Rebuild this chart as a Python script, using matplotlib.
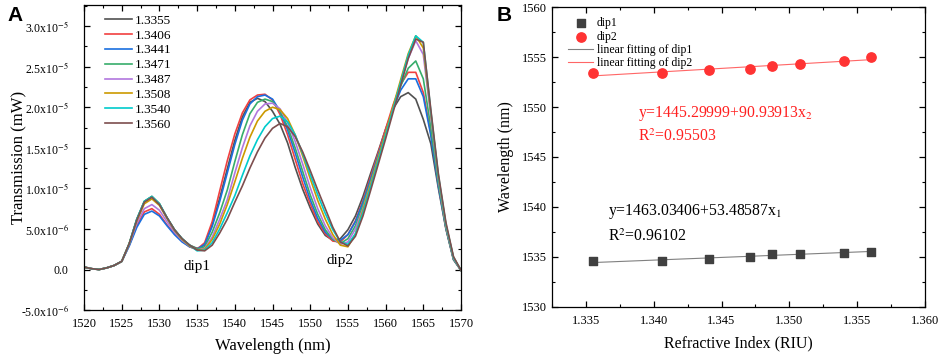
import numpy as np
import matplotlib
matplotlib.use('Agg')
import matplotlib.pyplot as plt
from matplotlib.ticker import FixedLocator, MultipleLocator, FormatStrFormatter

plt.rcParams['font.family'] = ['Liberation Serif', 'DejaVu Serif']
plt.rcParams['mathtext.fontset'] = 'stix'

# ---- panel A data: transmission spectra (units of 1e-6 mW) ----
wl = np.arange(1520, 1571, 1)
ri_labels = ['1.3355', '1.3406', '1.3441', '1.3471', '1.3487', '1.3508', '1.3540', '1.3560']
colors = ['#515151', '#F14040', '#1A6FDF', '#37AD6B', '#B177DE', '#CC9900', '#00CBCC', '#7D4E4E']

t_1_3355 = [0.3, 0.1, 0.0, 0.2, 0.5, 1.0, 3.2, 6.2, 8.4, 9.0, 8.1, 6.4, 4.9, 3.8, 3.0, 2.6,
            3.0, 5.6, 8.8, 12.4, 15.9, 18.8, 20.6, 21.1, 20.7, 19.5, 17.9, 15.6, 12.6, 9.9, 7.6,
            5.6, 4.2, 3.6, 3.8, 4.9, 6.6, 9.0, 11.8, 14.5, 17.3, 19.8, 21.3, 21.8, 21.0, 18.5,
            15.5, 10.0, 5.0, 1.2, -0.1]
t_1_3406 = [0.3, 0.1, 0.0, 0.2, 0.5, 1.0, 3.0, 5.4, 7.1, 7.5, 6.8, 5.5, 4.4, 3.5, 2.8, 2.5,
            3.3, 5.9, 9.7, 13.4, 16.7, 19.3, 20.9, 21.5, 21.6, 20.9, 19.1, 16.6, 13.6, 10.6, 8.1,
            5.9, 4.4, 3.5, 3.4, 4.3, 6.0, 8.5, 11.4, 14.3, 17.3, 20.3, 22.8, 24.3, 24.3, 21.8,
            16.8, 10.4, 5.1, 1.3, -0.1]
t_1_3441 = [0.3, 0.1, 0.0, 0.2, 0.5, 1.0, 2.9, 5.2, 6.8, 7.2, 6.6, 5.4, 4.3, 3.4, 2.8, 2.5,
            3.1, 5.3, 8.4, 11.9, 15.4, 18.4, 20.4, 21.3, 21.5, 21.0, 19.5, 17.2, 14.4, 11.4, 8.6,
            6.3, 4.6, 3.7, 3.6, 4.3, 5.9, 8.3, 11.1, 14.0, 16.9, 19.8, 22.1, 23.5, 23.5, 21.3,
            16.5, 10.3, 5.1, 1.3, -0.1]
t_1_3471 = [0.3, 0.1, 0.0, 0.2, 0.5, 1.0, 3.2, 6.2, 8.4, 9.0, 8.1, 6.4, 4.9, 3.8, 3.0, 2.5,
            2.8, 4.6, 7.0, 9.8, 13.3, 16.6, 19.2, 20.6, 21.0, 20.7, 19.5, 17.6, 15.0, 12.1, 9.2,
            6.8, 4.9, 3.7, 3.2, 3.8, 5.4, 7.9, 10.8, 13.8, 16.8, 19.8, 22.6, 24.8, 25.7, 23.5,
            17.5, 10.7, 5.2, 1.3, -0.1]
t_1_3487 = [0.3, 0.1, 0.0, 0.2, 0.5, 1.0, 3.1, 5.7, 7.5, 8.0, 7.3, 5.9, 4.6, 3.6, 2.9, 2.4,
            2.6, 4.0, 6.2, 8.6, 11.9, 15.0, 17.7, 19.5, 20.4, 20.5, 19.8, 18.1, 15.8, 13.0, 10.1,
            7.5, 5.4, 3.9, 3.1, 3.4, 5.0, 7.5, 10.5, 13.6, 16.7, 19.9, 23.0, 26.0, 28.2, 26.5,
            18.8, 11.2, 5.4, 1.4, -0.1]
t_1_3508 = [0.3, 0.1, 0.0, 0.2, 0.5, 1.0, 3.2, 6.0, 8.1, 8.7, 7.9, 6.3, 4.8, 3.7, 2.9, 2.4,
            2.5, 3.7, 5.6, 8.0, 10.8, 13.7, 16.3, 18.3, 19.5, 20.0, 19.7, 18.6, 16.6, 14.0, 11.2,
            8.5, 6.2, 4.3, 3.0, 2.8, 4.4, 7.3, 10.4, 13.6, 16.8, 20.1, 23.4, 26.6, 28.8, 27.3,
            19.2, 11.4, 5.5, 1.5, -0.1]
t_1_3540 = [0.3, 0.1, 0.0, 0.2, 0.5, 1.0, 3.2, 6.2, 8.4, 9.0, 8.1, 6.4, 4.9, 3.8, 3.0, 2.3,
            2.4, 3.3, 5.0, 7.0, 9.1, 11.6, 14.0, 16.0, 17.6, 18.6, 18.9, 18.2, 16.6, 14.3, 11.7,
            9.2, 6.9, 4.9, 3.4, 3.1, 4.4, 7.0, 10.1, 13.3, 16.5, 19.8, 23.1, 26.4, 28.8, 28.0,
            19.5, 11.6, 5.6, 1.5, -0.1]
t_1_3560 = [0.3, 0.1, 0.0, 0.2, 0.5, 1.0, 3.2, 6.1, 8.3, 8.9, 8.0, 6.4, 4.9, 3.8, 3.0, 2.4,
            2.3, 3.0, 4.5, 6.2, 8.3, 10.3, 12.5, 14.5, 16.2, 17.4, 18.0, 17.6, 16.4, 14.5, 12.2,
            9.8, 7.5, 5.2, 3.4, 2.9, 4.1, 6.6, 9.7, 12.9, 16.1, 19.4, 22.7, 26.0, 28.4, 28.0,
            19.7, 11.8, 5.8, 1.6, -0.1]
spectra = [t_1_3355, t_1_3406, t_1_3441, t_1_3471, t_1_3487, t_1_3508, t_1_3540, t_1_3560]

a_yticks = [-5e-6, 0, 5e-6, 1e-5, 1.5e-5, 2e-5, 2.5e-5, 3e-5]
a_yticklabels = [r'-5.0x10$^{-6}$', '0.0', r'5.0x10$^{-6}$', r'1.0x10$^{-5}$', r'1.5x10$^{-5}$',
                 r'2.0x10$^{-5}$', r'2.5x10$^{-5}$', r'3.0x10$^{-5}$']

# ---- panel B data: dip wavelengths vs refractive index ----
ri = [1.3355, 1.3406, 1.3441, 1.3471, 1.3487, 1.3508, 1.3540, 1.3560]
dip1 = [1534.55, 1534.57, 1534.83, 1535.0, 1535.28, 1535.32, 1535.43, 1535.53]
dip2 = [1553.36, 1553.43, 1553.70, 1553.80, 1554.13, 1554.28, 1554.62, 1554.96]

fig = plt.figure(figsize=(9.41, 3.56), dpi=100)
axA = fig.add_axes([0.0893, 0.129, 0.4006, 0.857])
axB = fig.add_axes([0.5866, 0.138, 0.3964, 0.842])

for ax in (axA, axB):
    ax.tick_params(which='both', direction='in', top=True, right=True, labelsize=9)
    ax.tick_params(which='major', length=4, width=0.9)
    ax.tick_params(which='minor', length=2.5, width=0.8)
    for s in ax.spines.values():
        s.set_linewidth(0.9)

for vals, c, lab in zip(spectra, colors, ri_labels):
    axA.plot(wl, np.array(vals) * 1e-6, color=c, lw=1.2, label=lab)
axA.set_xlim(1520, 1570)
axA.set_ylim(-5e-6, 3.26e-5)
axA.xaxis.set_major_locator(MultipleLocator(5))
axA.xaxis.set_minor_locator(MultipleLocator(2.5))
axA.yaxis.set_major_locator(FixedLocator(a_yticks))
axA.set_yticklabels(a_yticklabels)
axA.yaxis.set_minor_locator(MultipleLocator(2.5e-6))
axA.tick_params(axis='y', which='major', labelsize=8.5, pad=11)
axA.tick_params(axis='x', which='major', pad=6)
axA.set_xlabel('Wavelength (nm)', fontsize=12)
axA.set_ylabel('Transmission (mW)', fontsize=12)
axA.xaxis.set_label_coords(0.5, -0.09)
axA.yaxis.set_label_coords(-0.15, 0.5)
axA.text(1535, 0.4e-6, 'dip1', fontsize=11, ha='center', va='center')
axA.text(1554, 1.1e-6, 'dip2', fontsize=11, ha='center', va='center')
axA.legend(loc='upper left', bbox_to_anchor=(0.035, 0.995), frameon=False, fontsize=9.5,
           handlelength=2.0, handletextpad=0.25, labelspacing=0.2, borderaxespad=0.2)

axB.scatter(ri, dip1, marker='s', s=30, color='#404040', label='dip1', zorder=3)
axB.scatter(ri, dip2, marker='o', s=45, color='#FF3333', label='dip2', zorder=3)
xs = np.array([ri[0], ri[-1]])
p1 = np.polyfit(ri, dip1, 1)
p2 = np.polyfit(ri, dip2, 1)
axB.plot(xs, np.polyval(p1, xs), color='#808080', lw=0.8, label='linear fitting of dip1')
axB.plot(xs, np.polyval(p2, xs), color='#FF6666', lw=0.8, label='linear fitting of dip2')
axB.set_xlim(1.3325, 1.360)
axB.set_ylim(1530, 1560)
axB.xaxis.set_major_locator(MultipleLocator(0.005))
axB.xaxis.set_minor_locator(MultipleLocator(0.0025))
axB.yaxis.set_major_locator(MultipleLocator(5))
axB.yaxis.set_minor_locator(MultipleLocator(2.5))
axB.xaxis.set_major_formatter(FormatStrFormatter('%.3f'))
axB.tick_params(axis='x', which='major', pad=6)
axB.set_xlabel('Refractive Index (RIU)', fontsize=11.5)
axB.set_ylabel('Wavelength (nm)', fontsize=11.5)
axB.xaxis.set_label_coords(0.5, -0.095)
axB.yaxis.set_label_coords(-0.102, 0.5)
axB.text(1.33884, 1549.4, r'y=1445.29999+90.93913x$_2$', color='#FF2020', fontsize=11.3, va='center')
axB.text(1.33884, 1547.0, r'R$^2$=0.95503', color='#FF2020', fontsize=11.3, va='center')
axB.text(1.33663, 1539.5, r'y=1463.03406+53.48587x$_1$', color='black', fontsize=11.3, va='center')
axB.text(1.33663, 1537.0, r'R$^2$=0.96102', color='black', fontsize=11.3, va='center')
axB.legend(loc='upper left', bbox_to_anchor=(0.025, 0.99), frameon=False, fontsize=8.5,
           handlelength=2.1, handletextpad=0.3, labelspacing=0.12, borderaxespad=0.2)

fig.text(0.008, 0.94, 'A', fontsize=15, fontweight='bold', family='Liberation Sans')
fig.text(0.528, 0.94, 'B', fontsize=15, fontweight='bold', family='Liberation Sans')

fig.savefig('out.png', dpi=100)
